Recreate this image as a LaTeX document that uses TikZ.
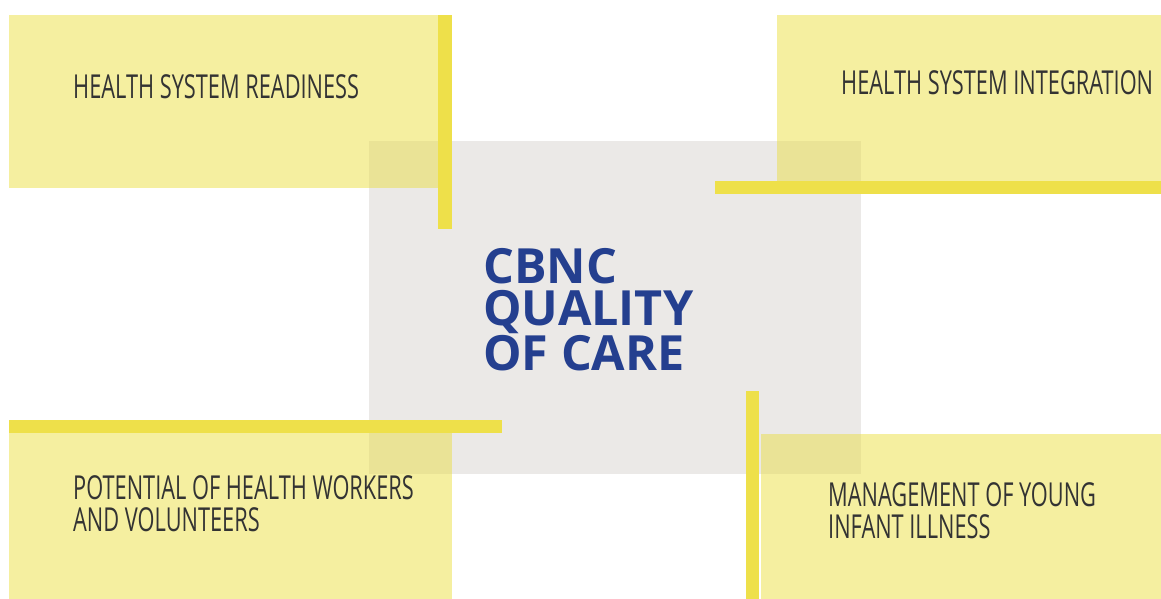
\documentclass[tikz,border=0pt]{standalone}
\usepackage{fontspec}
\newfontfamily\condfont[FakeStretch=0.66]{Open Sans}
\newfontfamily\boldfont{Open Sans}
\definecolor{paleyellow}{HTML}{F5EFA0}
\definecolor{baryellow}{HTML}{EEE04A}
\definecolor{panelgrey}{HTML}{EBE9E7}
\definecolor{overlap}{HTML}{EAE396}
\definecolor{titleblue}{HTML}{243F8F}
\definecolor{textgrey}{HTML}{333333}
\tikzset{
  card/.style={fill=paleyellow},
  bar/.style={fill=baryellow},
  mix/.style={fill=overlap},
  label/.style={anchor=base west, inner sep=0pt, text=textgrey, font=\condfont\fontsize{33}{32}\selectfont, align=left},
  title/.style={anchor=base west, inner sep=0pt, text=titleblue, font=\boldfont\bfseries\fontsize{48.5}{42.5}\selectfont, align=left}
}
\begin{document}
\begin{tikzpicture}[x=1pt,y=-1pt]
\useasboundingbox (0,0) rectangle (1161,599);
\fill[white] (0,0) rectangle (1161,599);
% centre panel
\fill[panelgrey] (369,141) rectangle (861,474);
% cards
\fill[card] (9,15) rectangle (452,188);
\fill[card] (777,15) rectangle (1161,181);
\fill[card] (9,433) rectangle (452,599);
\fill[card] (761,434) rectangle (1161,599);
% overlaps
\fill[mix] (369,141) rectangle (438,188);
\fill[mix] (777,141) rectangle (861,181);
\fill[mix] (369,433) rectangle (452,474);
\fill[mix] (761,434) rectangle (861,474);
% bars
\fill[bar] (438,15) rectangle (452,229);
\fill[bar] (715,181) rectangle (1161,194);
\fill[bar] (9,420) rectangle (502,433);
\fill[bar] (746,391) rectangle (759,599);
% texts (base anchor = last line's baseline)
\node[label] (readiness) at (73,99) {HEALTH SYSTEM READINESS};
\node[label] (integration) at (841,95) {HEALTH SYSTEM INTEGRATION};
\node[label] (potential) at (73,531) {POTENTIAL OF HEALTH WORKERS\\AND VOLUNTEERS};
\node[label] (management) at (828,538) {MANAGEMENT OF YOUNG\\INFANT ILLNESS};
\node[title] (centre) at (483,370) {CBNC\\QUALITY\\OF CARE};
\end{tikzpicture}
\end{document}
